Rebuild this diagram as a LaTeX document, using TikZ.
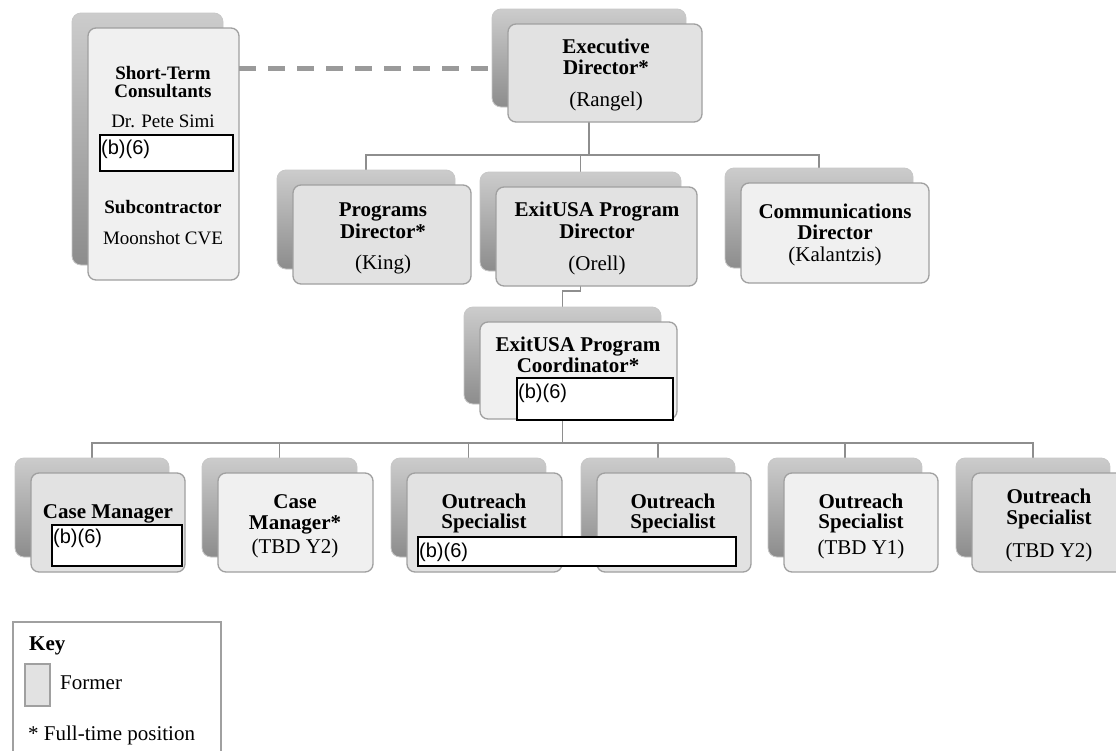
\documentclass[tikz,border=0pt]{standalone}
\usepackage{fontspec}
\setmainfont{Liberation Serif}
\newfontfamily\arialf{Liberation Sans}
\pgfdeclarelayer{bg}
\pgfsetlayers{bg,main}
\definecolor{dk}{HTML}{E2E2E2}
\definecolor{lt}{HTML}{F0F0F0}
\definecolor{bd}{HTML}{A0A0A0}
\definecolor{ln}{HTML}{8E8E8E}
\definecolor{dsh}{HTML}{9A9A9A}
\tikzset{
 frontbox/.style={draw=bd, line width=1.3pt, rounded corners=8pt, inner sep=0pt, outer sep=0pt},
 backbox/.style={draw=black!22, line width=0.8pt, rounded corners=9pt, top color=black!20, bottom color=black!45, inner sep=0pt, outer sep=0pt},
 conn/.style={draw=ln, line width=1.3pt},
 dashline/.style={draw=dsh, line width=5pt, dash pattern=on 17pt off 12pt},
 redact/.style={draw=black, line width=2pt, fill=white, inner sep=0pt, outer sep=0pt},
 redtxt/.style={font=\arialf\fontsize{20}{21}\selectfont, inner sep=0pt},
 lbl/.style={font=\fontsize{21}{22}\selectfont, inner sep=0pt},
 blbl/.style={font=\bfseries\fontsize{21}{22}\selectfont, inner sep=0pt},
 slbl/.style={font=\fontsize{19}{20}\selectfont, inner sep=0pt},
 sblbl/.style={font=\bfseries\fontsize{19}{20}\selectfont, inner sep=0pt},
}
\newcommand{\obox}[6]{%
 \node[backbox, minimum width={#4-#2}, minimum height={#5-#3}] (#1-b) at ({(#2+#4)/2-16},{(#3+#5)/2-15}) {};
 \node[frontbox, fill=#6, minimum width={#4-#2}, minimum height={#5-#3}] (#1) at ({(#2+#4)/2},{(#3+#5)/2}) {};}
\newcommand{\tl}[5]{\node[#1, anchor=base] (#2) at (#3,#4) {#5};}
\newcommand{\rbox}[5]{\node[redact, minimum width={#4-#2}, minimum height={#5-#3}] (#1) at ({(#2+#4)/2},{(#3+#5)/2}) {};}
\begin{document}
\begin{tikzpicture}[x=1pt,y=-1pt]
\clip (0,0) rectangle (1116,750);

% boxes
\obox{st}{88}{28}{239}{280}{lt}
\obox{ed}{508}{24}{702}{122}{dk}
\obox{pd}{293}{185}{471}{284}{dk}
\obox{xd}{496}{187}{697}{286}{dk}
\obox{cd}{741}{183}{929}{283}{lt}
\obox{co}{480}{322}{677}{419}{lt}
\obox{ba}{31}{473}{185}{572}{dk}
\obox{bb}{218}{473}{373}{572}{lt}
\obox{bc}{407}{473}{562}{572}{dk}
\obox{bd}{597}{473}{751}{572}{dk}
\obox{be}{784}{473}{938}{572}{lt}
\obox{bf}{972}{473}{1126}{572}{dk}

% connectors
\coordinate (bar1) at (0,155);
\coordinate (j2) at (0,291);
\coordinate (bar2) at (0,443);
\coordinate (dy) at (0,68);
\begin{pgfonlayer}{bg}
\fill[white] (0,0) rectangle (1116,750);
\draw[conn] (ed-b.south) -- (ed-b.south |- bar1);
\draw[conn] (pd-b.north) |- (bar1 -| cd-b.north) -- (cd-b.north);
\draw[conn] (xd-b.north) -- (xd-b.north |- bar1);
\draw[conn] (xd-b.south) -- (xd-b.south |- j2) -| (co-b.north);
\draw[conn] (co-b.south) -- (co-b.south |- bar2);
\draw[conn] (ba-b.north) |- (bar2 -| bf-b.north) -- (bf-b.north);
\draw[conn] (bb-b.north) -- (bb-b.north |- bar2);
\draw[conn] (bc-b.north) -- (bc-b.north |- bar2);
\draw[conn] (bd-b.north) -- (bd-b.north |- bar2);
\draw[conn] (be-b.north) -- (be-b.north |- bar2);
\end{pgfonlayer}
\draw[dashline] (st.east |- dy) -- (ed-b.west |- dy);

% texts
\tl{sblbl}{st1}{163}{79}{Short-Term}
\tl{sblbl}{st2}{163}{97}{Consultants}
\tl{slbl}{st3}{163}{127}{Dr. Pete Simi}
\tl{sblbl}{st4}{163}{213}{Subcontractor}
\tl{slbl}{st5}{163}{244}{Moonshot CVE}

\tl{blbl}{ed1}{606}{53}{Executive}
\tl{blbl}{ed2}{606}{74}{Director*}
\tl{lbl}{ed3}{606}{106}{(Rangel)}

\tl{blbl}{pd1}{383}{216}{Programs}
\tl{blbl}{pd2}{383}{238}{Director*}
\tl{lbl}{pd3}{383}{269}{(King)}

\tl{blbl}{xd1}{597}{216}{ExitUSA Program}
\tl{blbl}{xd2}{597}{238}{Director}
\tl{lbl}{xd3}{597}{270}{(Orell)}

\tl{blbl}{cd1}{835}{218}{Communications}
\tl{blbl}{cd2}{835}{239}{Director}
\tl{lbl}{cd3}{835}{261}{(Kalantzis)}

\tl{blbl}{co1}{578}{351}{ExitUSA Program}
\tl{blbl}{co2}{578}{372}{Coordinator*}

\tl{blbl}{ba1}{108}{518}{Case Manager}

\tl{blbl}{bb1}{295}{508}{Case}
\tl{blbl}{bb2}{295}{529}{Manager*}
\tl{lbl}{bb3}{295}{553}{(TBD Y2)}

\tl{blbl}{bc1}{484}{508}{Outreach}
\tl{blbl}{bc2}{484}{528}{Specialist}

\tl{blbl}{bd1}{673}{508}{Outreach}
\tl{blbl}{bd2}{673}{528}{Specialist}

\tl{blbl}{be1}{861}{508}{Outreach}
\tl{blbl}{be2}{861}{528}{Specialist}
\tl{lbl}{be3}{861}{554}{(TBD Y1)}

\tl{blbl}{bf1}{1049}{503}{Outreach}
\tl{blbl}{bf2}{1049}{524}{Specialist}
\tl{lbl}{bf3}{1049}{557}{(TBD Y2)}

% redactions
\rbox{r1}{100}{135}{233}{171}
\node[redtxt, anchor=base west] (r1t) at (101,154) {(b)(6)};
\rbox{r2}{517}{378}{673}{420}
\node[redtxt, anchor=base west] (r2t) at (518,398) {(b)(6)};
\rbox{r3}{52}{525}{182}{566}
\node[redtxt, anchor=base west] (r3t) at (53,543) {(b)(6)};
\rbox{r4}{418}{537}{736}{566}
\node[redtxt, anchor=base west] (r4t) at (419,557) {(b)(6)};

% key
\node[draw=bd, line width=1.2pt, minimum width=208, minimum height=150, inner sep=0pt] (key) at (117,697) {};
\node[blbl, anchor=base west] (keyt) at (29,650) {Key};
\node[draw=bd, line width=1.1pt, fill=dk, minimum width=25, minimum height=42, inner sep=0pt] (keys) at (37.5,685) {};
\node[lbl, anchor=base west] (keyf) at (60,689) {Former};
\node[lbl, anchor=base west] (keyp) at (28,740) {* Full-time position};
\end{tikzpicture}
\end{document}
